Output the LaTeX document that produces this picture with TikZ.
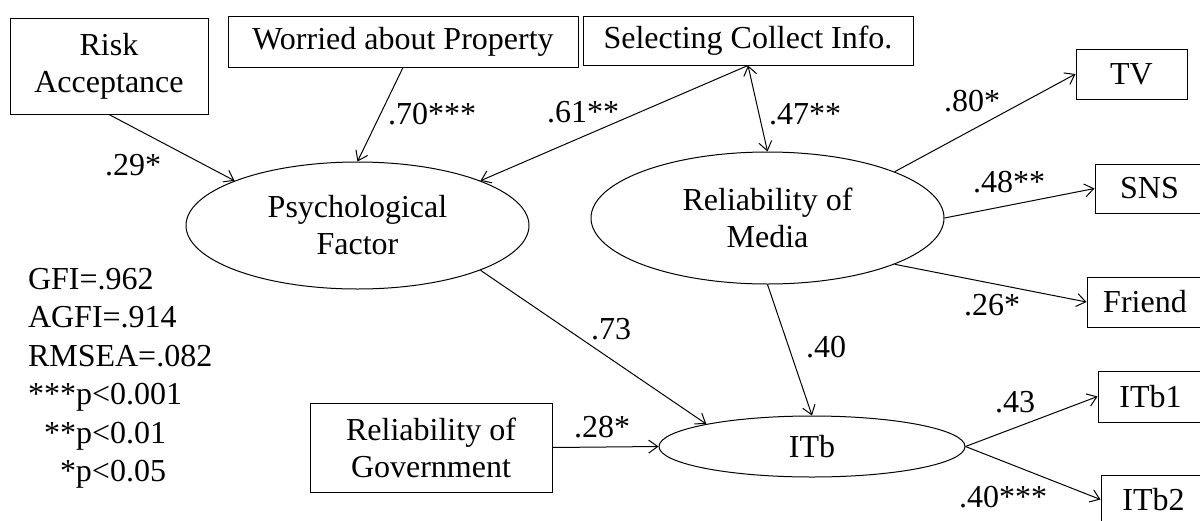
\documentclass[tikz,border=0pt]{standalone}
\usepackage{fontspec}
\setmainfont{Liberation Serif}
\usetikzlibrary{shapes.geometric,arrows.meta}
\begin{document}
\begin{tikzpicture}[x=0.5pt,y=-0.5pt,
  font=\fontsize{16}{18.5}\selectfont,
  line width=0.5pt,
  obs/.style={draw,rectangle,inner sep=0pt,align=center},
  lat/.style={draw,ellipse,inner sep=0pt,align=center},
  coef/.style={inner sep=0pt},
  stat/.style={inner sep=0pt,anchor=base west},
  arr/.style={-{Straight Barb[length=4.5pt,width=6.5pt]}},
  darr/.style={{Straight Barb[length=4.5pt,width=6.5pt]}-{Straight Barb[length=4.5pt,width=6.5pt]}}]
\useasboundingbox (0,0) rectangle (1200,520);

% observed variables
\node[obs,minimum width=99pt,minimum height=48pt] (risk) at (109,66) {Risk\\Acceptance};
\node[obs,minimum width=175pt,minimum height=25.5pt] (worried) at (403,41.5) {Worried about Property};
\node[obs,minimum width=165pt,minimum height=24.5pt] (select) at (748,40.5) {Selecting Collect Info.};
\node[obs,minimum width=55.5pt,minimum height=25pt] (tv) at (1131.5,74) {TV};
\node[obs,minimum width=54.5pt,minimum height=24.5pt] (sns) at (1149.5,188.5) {SNS};
\node[obs,minimum width=58pt,minimum height=25pt] (friend) at (1145,302) {Friend};
\node[obs,minimum width=52.5pt,minimum height=25.5pt] (itb1) at (1150.5,396.5) {ITb1};
\node[obs,minimum width=52.5pt,minimum height=24.5pt] (itb2) at (1153.5,499.5) {ITb2};
\node[obs,minimum width=121pt,minimum height=44.5pt] (gov) at (431,447.5) {Reliability of\\Government};

% latent variables
\node[lat,minimum width=171.5pt,minimum height=63.5pt] (psych) at (357.5,225.5) {Psychological\\Factor};
\node[lat,minimum width=176.5pt,minimum height=66pt] (media) at (767.5,218) {Reliability of\\Media};
\node[lat,minimum width=153pt,minimum height=30.5pt] (itb) at (812,446.5) {ITb};

% paths
\draw[arr] (risk.south) -- (psych.160);
\draw[arr] (worried.south) -- (psych.north);
\draw[arr] (select.south) -- (psych.20);
\draw[darr] (select.south) -- (media.north);
\draw[arr] (media.20) -- (tv.west);
\draw[arr] (media.east) -- (sns.west);
\draw[arr] (media.-20) -- (friend.west);
\draw[arr] (media.south) -- (itb.north);
\draw[arr] (psych.-20) -- (itb.168);
\draw[arr] (gov.east) -- (itb.west);
\draw[arr] (itb.east) -- (itb1.west);
\draw[arr] (itb.east) -- (itb2.west);

% coefficients
\node[coef] (c29) at (133,165) {.29*};
\node[coef] (c70) at (432,114) {.70***};
\node[coef] (c61) at (583,112) {.61**};
\node[coef] (c47) at (805,114) {.47**};
\node[coef] (c80) at (972,101) {.80*};
\node[coef] (c48) at (1009,182) {.48**};
\node[coef] (c26) at (992,305) {.26*};
\node[coef] (c73) at (611,329) {.73};
\node[coef] (c40) at (826,347) {.40};
\node[coef] (c28) at (602,427) {.28*};
\node[coef] (c43) at (1015,402) {.43};
\node[coef] (c40b) at (1003,497) {.40***};

% fit statistics
\node[stat] (s1) at (27.5,289) {GFI=.962};
\node[stat] (s2) at (27.5,327.5) {AGFI=.914};
\node[stat] (s3) at (27.5,366) {RMSEA=.082};
\node[stat] (s4) at (27.5,404.5) {***p<0.001};
\node[stat] (s5) at (27.5,443) {\hphantom{*}**p<0.01};
\node[stat] (s6) at (27.5,481.5) {\hphantom{**}*p<0.05};
\end{tikzpicture}
\end{document}
